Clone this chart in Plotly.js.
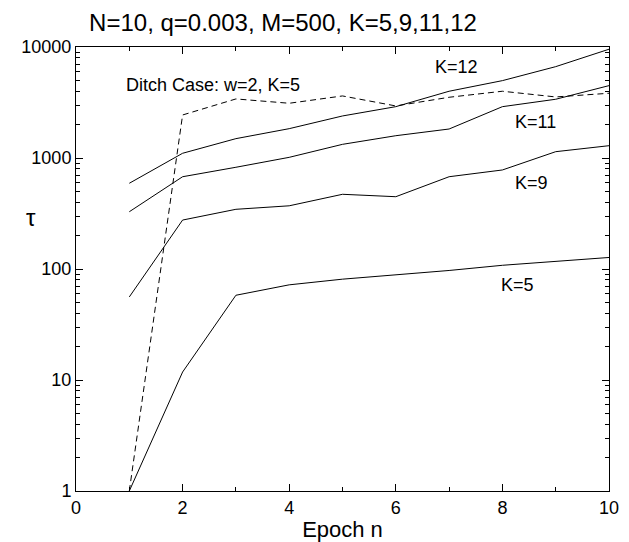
<!DOCTYPE html>
<html><head><meta charset="utf-8">
<script src="https://cdn.plot.ly/plotly-3.0.1.min.js"></script>
<style>html,body{margin:0;padding:0;background:#fff}#g{width:629px;height:542px}</style>
</head><body><div id="g"></div>
<script>
const epochs = [1,2,3,4,5,6,7,8,9,10];
const tauK5  = [1, 11.8, 58, 72, 81, 88, 97, 108, 118, 127];
const tauK9  = [56, 276, 345, 371, 471, 448, 678, 780, 1140, 1291];
const tauK11 = [328, 678, 825, 1014, 1328, 1588, 1825, 2900, 3383, 4487];
const tauK12 = [592, 1103, 1494, 1838, 2392, 2900, 3994, 4977, 6653, 9550];
const tauDitch = [1, 2441, 3405, 3113, 3623, 2944, 3525, 3994, 3549, 3830];
const labels = [
  {text: 'Ditch Case: w=2, K=5', x: 2.57, y: 4550},
  {text: 'K=12', x: 7.13, y: 6660},
  {text: 'K=11', x: 8.63, y: 2125},
  {text: 'K=9', x: 8.54, y: 595},
  {text: 'K=5', x: 8.29, y: 71.6}
];

const line = {color: 'black', width: 1};
const traces = [tauK5, tauK9, tauK11, tauK12].map(v => ({
  x: epochs, y: v, mode: 'lines', type: 'scatter', line: line, hoverinfo: 'skip'
}));
traces.push({x: epochs, y: tauDitch, mode: 'lines', type: 'scatter',
  line: {color: 'black', width: 1, dash: '6px,4px'}, hoverinfo: 'skip'});

const font = {family: 'Liberation Sans, Arial, sans-serif', color: 'black'};
const f = s => Object.assign({size: s}, font);
const anns = labels.map(a => ({text: a.text, x: a.x, y: Math.log10(a.y), xref: 'x', yref: 'y',
          showarrow: false, font: f(18)}));
anns.push({text: 'τ', xref: 'paper', yref: 'paper', x: (31 - 76) / 533, y: (491 - 217) / 444,
           xanchor: 'center', yanchor: 'middle', showarrow: false, font: f(24)});

const layout = {
  width: 629, height: 542,
  margin: {l: 76, r: 20, t: 47, b: 51},
  paper_bgcolor: 'white', plot_bgcolor: 'white',
  showlegend: false,
  font: f(18),
  title: {text: 'N=10, q=0.003, M=500, K=5,9,11,12', xref: 'container', x: 0.45, xanchor: 'center',
          yref: 'container', y: 1 - 23 / 542, yanchor: 'middle', font: f(24)},
  xaxis: {range: [0, 10], tickmode: 'linear', tick0: 0, dtick: 2, ticks: 'inside', ticklen: 7, tickwidth: 1,
          tickcolor: '#000000', showline: true, linecolor: 'black', linewidth: 1, mirror: 'ticks',
          showgrid: false, zeroline: false, tickfont: f(18),
          minor: {tick0: 0, dtick: 1, ticks: 'inside', ticklen: 4, tickwidth: 1, tickcolor: '#000000', showgrid: false},
          title: {text: 'Epoch n', standoff: 6, font: f(22)}},
  yaxis: {type: 'log', range: [0, 4], tickmode: 'linear', tick0: 0, dtick: 1, tickformat: 'd',
          ticks: 'inside', ticklen: 7, tickwidth: 1, tickcolor: '#000000', showline: true, linecolor: 'black',
          linewidth: 1, mirror: 'ticks', showgrid: false, zeroline: false, tickfont: f(18),
          minor: {dtick: 'D1', ticks: 'inside', ticklen: 4, tickwidth: 1, tickcolor: '#000000', showgrid: false}},
  annotations: anns
};
Plotly.newPlot('g', traces, layout, {staticPlot: true});
</script></body></html>
